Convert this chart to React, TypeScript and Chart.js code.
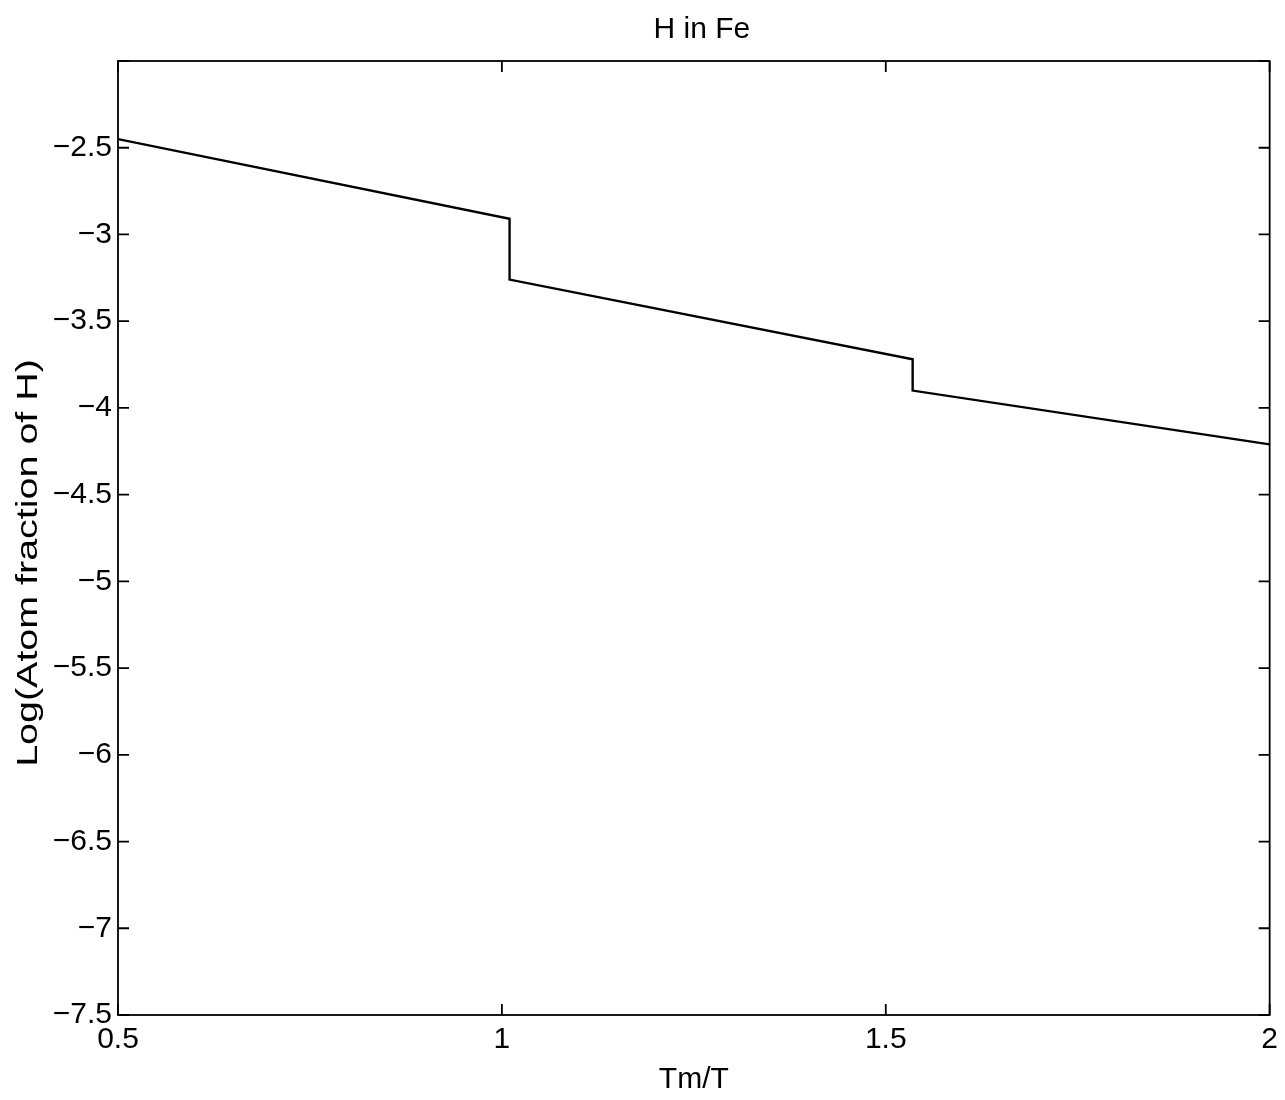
import { useEffect, useRef } from "react";
import { Chart, registerables } from "chart.js";

Chart.register(...registerables);

// Hydrogen solubility in iron versus reduced inverse temperature.
// The two steps are the phase changes of the iron lattice.
const tmOverT = [0.5, 1.01, 1.01, 1.535, 1.535, 2.0];
const logAtomFraction = [-2.45, -2.91, -3.26, -3.72, -3.9, -4.21];

const xTickValues = [0.5, 1, 1.5, 2];
const yTickValues = [-7.5, -7, -6.5, -6, -5.5, -5, -4.5, -4, -3.5, -3, -2.5, -2];

const chartTitle = "H in Fe";
const xAxisLabel = "Tm/T";
const yAxisLabel = "Log(Atom fraction of H)";

const FONT = '"Liberation Sans", Arial, Helvetica, sans-serif';

// Box around the axes with inward-pointing ticks on every side,
// plus the title and the (wide-set) vertical axis label.
const boxedTicks = {
  id: "boxedTicks",
  afterDatasetsDraw(chart: Chart) {
    const { ctx, chartArea } = chart;
    const { left, right, top, bottom } = chartArea;
    const x = chart.scales.x;
    const y = chart.scales.y;
    const len = 11;
    ctx.save();
    ctx.strokeStyle = "#000";
    ctx.lineWidth = 1.8;
    ctx.strokeRect(left, top, right - left, bottom - top);
    ctx.beginPath();
    for (const v of xTickValues) {
      const px = x.getPixelForValue(v);
      ctx.moveTo(px, bottom);
      ctx.lineTo(px, bottom - len);
      ctx.moveTo(px, top);
      ctx.lineTo(px, top + len);
    }
    for (const v of yTickValues) {
      const py = y.getPixelForValue(v);
      ctx.moveTo(left, py);
      ctx.lineTo(left + len, py);
      ctx.moveTo(right, py);
      ctx.lineTo(right - len, py);
    }
    ctx.stroke();

    // title, centred over the plot box
    ctx.fillStyle = "#000";
    ctx.textAlign = "center";
    ctx.textBaseline = "middle";
    ctx.font = `30px ${FONT}`;
    ctx.fillText(chartTitle, (left + right) / 2 + 8, 30);

    // y-axis label, rotated and stretched along its length
    ctx.save();
    ctx.translate(29, 563);
    ctx.rotate(-Math.PI / 2);
    ctx.scale(1.36, 1);
    ctx.font = `29px ${FONT}`;
    ctx.fillText(yAxisLabel, 0, 0);
    ctx.restore();

    ctx.restore();
  },
};

export default function App() {
  const canvasRef = useRef<HTMLCanvasElement | null>(null);

  useEffect(() => {
    document.body.style.margin = "0";
    const canvas = canvasRef.current;
    if (!canvas) return;

    const chart = new Chart(canvas, {
      type: "scatter",
      data: {
        datasets: [
          {
            label: chartTitle,
            data: tmOverT.map((t, i) => ({ x: t, y: logAtomFraction[i] })),
            showLine: true,
            borderColor: "#000",
            borderWidth: 2.4,
            pointRadius: 0,
            fill: false,
            tension: 0,
          },
        ],
      },
      options: {
        responsive: false,
        animation: false,
        devicePixelRatio: 1,
        layout: { padding: { top: 61, right: 12, bottom: 0, left: 0 } },
        plugins: {
          legend: { display: false },
          tooltip: { enabled: false },
          title: { display: false },
        },
        scales: {
          x: {
            type: "linear",
            min: 0.5,
            max: 2,
            afterFit: (s: any) => {
              s.height = 85;
            },
            afterBuildTicks: (s: any) => {
              s.ticks = xTickValues.map((v) => ({ value: v }));
            },
            grid: { display: false, drawTicks: false },
            border: { display: false },
            ticks: {
              color: "#000",
              padding: 7,
              maxRotation: 0,
              font: { family: FONT, size: 30 },
              callback: (v: any) => String(v),
            },
            title: {
              display: true,
              text: xAxisLabel,
              color: "#000",
              font: { family: FONT, size: 30 },
              padding: { top: 0, bottom: 2 },
            },
          },
          y: {
            type: "linear",
            min: -7.5,
            max: -2,
            afterFit: (s: any) => {
              s.width = 118;
            },
            afterBuildTicks: (s: any) => {
              s.ticks = yTickValues.map((v) => ({ value: v }));
            },
            grid: { display: false, drawTicks: false },
            border: { display: false },
            ticks: {
              color: "#000",
              padding: 6,
              font: { family: FONT, size: 30 },
              callback: (v: any) => (v === -2 ? "" : String(v).replace("-", "\u2212")),
            },
          },
        },
      },
      plugins: [boxedTicks],
    });

    return () => chart.destroy();
  }, []);

  return (
    <div style={{ width: 1285, height: 1100, background: "#fff" }}>
      <canvas ref={canvasRef} width={1285} height={1100} style={{ display: "block" }} />
    </div>
  );
}
